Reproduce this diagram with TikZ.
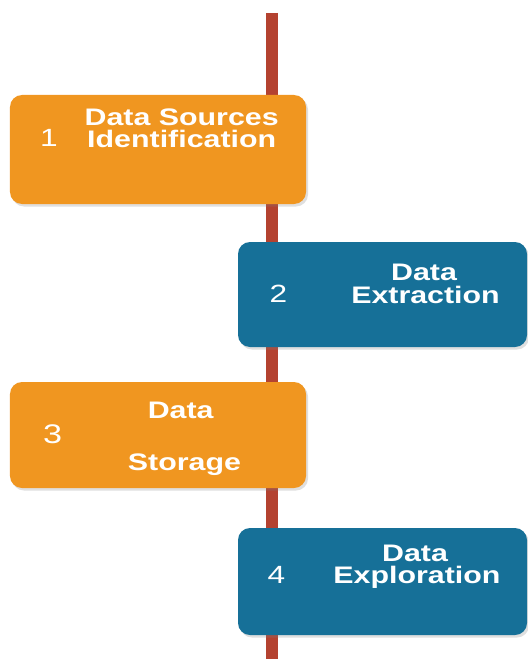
\documentclass[tikz,border=0pt]{standalone}
\usepackage{fontspec}
\setmainfont{Liberation Sans}[FakeStretch=1.27]
\usetikzlibrary{shadows}
\definecolor{orng}{RGB}{240,150,32}
\definecolor{blu}{RGB}{22,112,152}
\definecolor{barred}{RGB}{180,66,48}
\begin{document}
\begin{tikzpicture}[x=1bp,y=-1bp,
  stepbox/.style={rounded corners=12bp, inner sep=0pt, draw=none,
    drop shadow={shadow xshift=2bp, shadow yshift=-2.5bp, opacity=0.25}},
  obox/.style={stepbox, fill=orng},
  bbox/.style={stepbox, fill=blu},
  ttl/.style={anchor=base, inner sep=0pt, text=white, font=\fontsize{24}{24}\selectfont\bfseries},
  num/.style={anchor=base, inner sep=0pt, text=white, font=\fontsize{25}{25}\selectfont}]
\fill[white] (0,0) rectangle (528,659);
\useasboundingbox (0,0) rectangle (528,659);
\coordinate (bartop) at (272,13);
\coordinate (barbot) at (272,659);
\draw[barred, line width=12bp] (bartop) -- (barbot);

\node[obox, minimum width=296bp, minimum height=109bp] (b1) at (158,149.5) {};
\node[bbox, minimum width=289bp, minimum height=105bp] (b2) at (382.5,294.5) {};
\node[obox, minimum width=296bp, minimum height=106bp] (b3) at (158,435) {};
\node[bbox, minimum width=289bp, minimum height=107bp] (b4) at (382.5,581.5) {};

\node[ttl] (t1a) at (181.7,125.5) {Data Sources};
\node[ttl] (t1b) at (181.7,147) {Identification};
\node[num] (n1) at (49,146.7) {1};

\node[ttl] (t2a) at (424,280) {Data};
\node[ttl] (t2b) at (425.5,303.3) {Extraction};
\node[num] (n2) at (278.3,302) {2};

\node[ttl] (t3a) at (180.7,418.3) {Data};
\node[ttl] (t3b) at (184.5,470.7) {Storage};
\node[num, font=\fontsize{27}{27}\selectfont] (n3) at (52.5,443.3) {3};

\node[ttl] (t4a) at (415,561) {Data};
\node[ttl] (t4b) at (417,583.3) {Exploration};
\node[num] (n4) at (276.5,583) {4};
\end{tikzpicture}
\end{document}
